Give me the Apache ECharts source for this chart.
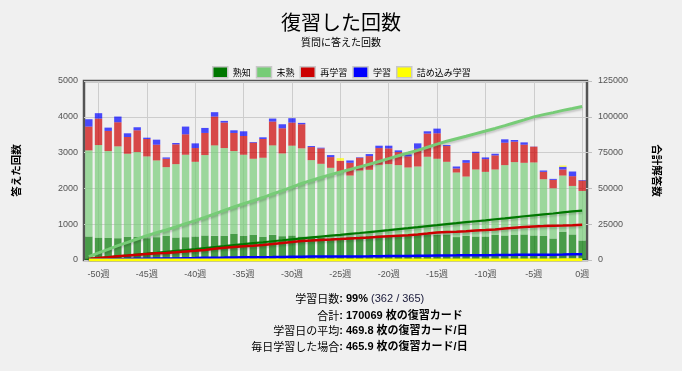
<!DOCTYPE html>
<html>
<head>
<meta charset="utf-8">
<script src="https://cdn.jsdelivr.net/npm/echarts@6/dist/echarts.min.js"></script>
<style>
html,body{margin:0;padding:0;background:#f0f0f0;}
#chart{width:682px;height:371px;}
</style>
</head>
<body>
<div id="chart"></div>
<script>
// ---- data ----
const weeks = [-51,-50,-49,-48,-47,-46,-45,-44,-43,-42,-41,-40,-39,-38,-37,-36,-35,-34,-33,-32,-31,-30,-29,-28,-27,-26,
               -25,-24,-23,-22,-21,-20,-19,-18,-17,-16,-15,-14,-13,-12,-11,-10,-9,-8,-7,-6,-5,-4,-3,-2,-1,0];
const mature  = [655,618,618,608,646,646,608,637,674,627,637,655,683,674,674,730,674,702,646,702,665,683,655,637,618,599,
                 580,640,660,680,690,680,700,680,700,720,700,710,640,674,655,655,702,683,702,712,683,674,599,786,712,543];
const young   = [2407,2593,2425,2566,2322,2369,2285,2144,1920,2051,2303,2088,2248,2528,2453,2313,2266,2126,2210,2500,2312,2510,2463,2153,2069,1976,
                 1854,1719,1840,1839,1969,1998,1950,1904,1912,2164,2128,2033,1804,1657,1873,1807,1826,1967,2032,2003,2042,1582,1405,1573,1357,1386];
const relearn = [665,740,562,674,468,608,487,440,234,552,571,384,618,805,712,506,524,449,524,665,703,646,674,365,431,299,
                 337,356,356,384,468,440,365,309,496,646,711,440,112,384,459,356,393,627,571,506,440,206,234,169,272,290];
const learn   = [205,150,93,159,103,85,37,140,37,38,216,131,140,122,47,74,131,19,47,84,112,122,38,28,19,57,
                 0,66,14,56,66,75,47,56,150,65,131,28,56,75,37,47,47,94,47,65,5,38,28,75,131,16];
const cram    = [0,0,0,0,0,0,0,0,0,0,0,0,0,0,0,0,0,0,0,0,0,0,0,0,0,0,
                 75,0,0,0,0,0,0,0,0,0,0,0,0,0,0,0,0,0,0,0,0,0,0,37,0,0];
const xTicks  = [-50,-45,-40,-35,-30,-25,-20,-15,-10,-5,0];
const names   = ['熟知','未熟','再学習','学習','詰め込み学習'];
const colors  = ['#007700','#77cc77','#cc0000','#0000ff','#ffff00'];

const cum = arr => { let s = 0; return arr.map(v => (s += v)); };

const FONT = '"Liberation Sans","Noto Sans CJK JP",sans-serif';
const CJK = '"Noto Sans CJK JP","Liberation Sans",sans-serif';

const seriesData = [mature, young, relearn, learn, cram];
const lineWidths = [2.2, 3, 2.5, 2.5, 3];
const series = [];
seriesData.forEach((arr, k) => {
  series.push({
    name: names[k], type: 'bar', stack: 'reps', barWidth: 7.4,
    xAxisIndex: 0, yAxisIndex: 0,
    data: arr,
    itemStyle: { color: colors[k], opacity: 0.7 },
    emphasis: { disabled: true }
  });
  series.push({
    name: 'cum-' + names[k], type: 'line', xAxisIndex: 0, yAxisIndex: 1,
    data: cum(arr), showSymbol: false, symbol: 'none',
    lineStyle: { color: colors[k], width: lineWidths[k], shadowColor: 'rgba(0,0,0,0.18)', shadowBlur: 2, shadowOffsetY: 2 },
    emphasis: { disabled: true }
  });
});

const chart = echarts.init(document.getElementById('chart'), null, { renderer: 'canvas' });
chart.setOption({
  animation: false,
  backgroundColor: '#f0f0f0',
  title: {
    text: '復習した回数', subtext: '質問に答えた回数', left: 'center', top: 5, itemGap: 1,
    textStyle: { fontFamily: CJK, fontSize: 20, fontWeight: 'normal', color: '#000', lineHeight: 24 },
    subtextStyle: { fontFamily: CJK, fontSize: 10, color: '#000', lineHeight: 14 }
  },
  legend: {
    data: names, left: 207, top: 61, itemWidth: 15, itemHeight: 11, itemGap: 5, icon: 'rect',
    itemStyle: { borderColor: '#c8c8c8', borderWidth: 1.5, opacity: 1 },
    textStyle: { fontFamily: CJK, fontSize: 9, color: '#000' },
    selectedMode: false
  },
  grid: { left: 84, right: 95, top: 81, bottom: 111, show: true, borderColor: '#545454', borderWidth: 2.5, backgroundColor: 'transparent' },
  xAxis: [
    {
      type: 'category', data: weeks.map(String), boundaryGap: true, position: 'bottom',
      axisLine: { show: false }, axisTick: { show: false }, axisLabel: { show: false }, splitLine: { show: false }
    },
    {
      type: 'value', min: -51.5, max: 0.5, position: 'bottom',
      axisLine: { show: false },
      axisTick: { show: false, customValues: xTicks },
      axisLabel: { customValues: xTicks, formatter: v => v + '週', fontFamily: FONT, fontSize: 9, color: '#545454', margin: 10 },
      splitLine: { show: true, lineStyle: { color: '#cdcdcd', width: 1 } }
    }
  ],
  yAxis: [
    {
      type: 'value', min: 0, max: 5000, interval: 1000,
      axisLine: { show: false }, axisTick: { show: false },
      axisLabel: { fontFamily: FONT, fontSize: 9, color: '#545454', margin: 6, formatter: v => String(v) },
      splitLine: { show: true, lineStyle: { color: '#cdcdcd', width: 1 } },
      name: '答えた回数', nameLocation: 'middle', nameGap: 63, nameRotate: 90,
      nameTextStyle: { fontFamily: CJK, fontSize: 10.5, fontWeight: 'bold', color: '#000' }
    },
    {
      type: 'value', min: 0, max: 125000, interval: 25000, position: 'right',
      axisLine: { show: false },
      axisTick: { show: true, length: 5, lineStyle: { color: '#c0c0c0' } },
      axisLabel: { fontFamily: FONT, fontSize: 9, color: '#545454', margin: 11, formatter: v => String(v) },
      splitLine: { show: false },
      name: '合計解答数', nameLocation: 'middle', nameGap: 65, nameRotate: -90,
      nameTextStyle: { fontFamily: CJK, fontSize: 10.5, fontWeight: 'bold', color: '#000' }
    }
  ],
  graphic: [
    { type: 'text', x: 343, y: 299, style: { text: '{n|学習日数}{b|:}', align: 'right', verticalAlign: 'middle',
        rich: { n: { fontFamily: CJK, fontSize: 11, fill: '#000' }, b: { fontFamily: FONT, fontSize: 11, fontWeight: 'bold', fill: '#000' } } } },
    { type: 'text', x: 346, y: 299, style: { text: '{b|99%}{n| (362 / 365)}', align: 'left', verticalAlign: 'middle',
        rich: { n: { fontFamily: FONT, fontSize: 11, fill: '#1a1a3a' }, b: { fontFamily: FONT, fontSize: 11, fontWeight: 'bold', fill: '#000' } } } },
    { type: 'text', x: 343, y: 315.5, style: { text: '{n|合計}{b|:}', align: 'right', verticalAlign: 'middle',
        rich: { n: { fontFamily: CJK, fontSize: 11, fill: '#000' }, b: { fontFamily: FONT, fontSize: 11, fontWeight: 'bold', fill: '#000' } } } },
    { type: 'text', x: 346, y: 315.5, style: { text: '170069 枚の復習カード', align: 'left', verticalAlign: 'middle',
        fontFamily: FONT, fontSize: 11, fontWeight: 'bold', fill: '#000' } },
    { type: 'text', x: 343, y: 331, style: { text: '{n|学習日の平均}{b|:}', align: 'right', verticalAlign: 'middle',
        rich: { n: { fontFamily: CJK, fontSize: 11, fill: '#000' }, b: { fontFamily: FONT, fontSize: 11, fontWeight: 'bold', fill: '#000' } } } },
    { type: 'text', x: 346, y: 331, style: { text: '469.8 枚の復習カード/日', align: 'left', verticalAlign: 'middle',
        fontFamily: FONT, fontSize: 11, fontWeight: 'bold', fill: '#000' } },
    { type: 'text', x: 343, y: 347, style: { text: '{n|毎日学習した場合}{b|:}', align: 'right', verticalAlign: 'middle',
        rich: { n: { fontFamily: CJK, fontSize: 11, fill: '#000' }, b: { fontFamily: FONT, fontSize: 11, fontWeight: 'bold', fill: '#000' } } } },
    { type: 'text', x: 346, y: 347, style: { text: '465.9 枚の復習カード/日', align: 'left', verticalAlign: 'middle',
        fontFamily: FONT, fontSize: 11, fontWeight: 'bold', fill: '#000' } }
  ],
  series: series
});
</script>
</body>
</html>
